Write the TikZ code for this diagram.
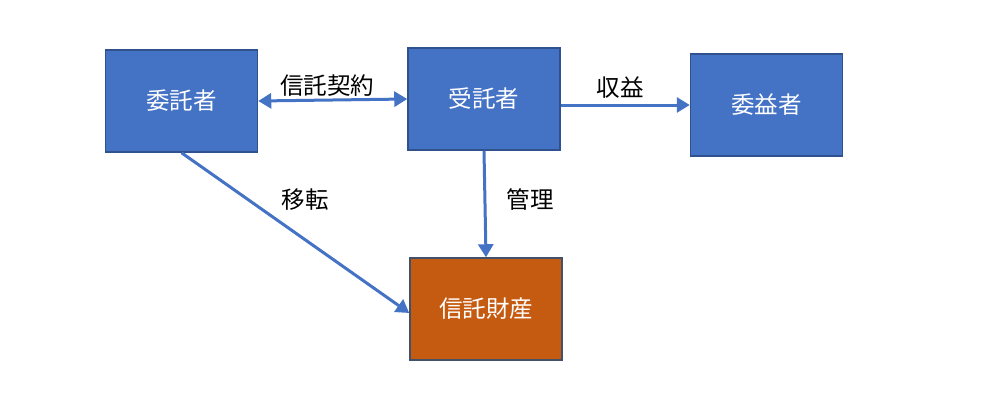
\documentclass[tikz,border=0pt]{standalone}
\usepackage{fontspec}
\setmainfont{Noto Sans CJK JP}
\usetikzlibrary{arrows.meta}
\definecolor{boxblue}{HTML}{4472C4}
\definecolor{boxline}{HTML}{2F528F}
\definecolor{boxorange}{HTML}{C55A11}
\definecolor{orangeline}{HTML}{42506A}
\tikzset{
  font={\fontsize{23.5pt}{28pt}\selectfont},
  party/.style={draw=boxline, line width=1.5pt, fill=boxblue, text=white,
    minimum width=152pt, minimum height=102pt, inner sep=0pt},
  asset/.style={party, draw=orangeline, fill=boxorange},
  link/.style={draw=boxblue, line width=3pt,
    -{Triangle[length=13pt,width=15pt]}},
  linklabel/.style={inner sep=0pt, text=black}}
\begin{document}
\begin{tikzpicture}[x=1pt,y=-1pt]
\useasboundingbox (0,0) rectangle (982,415);
% boxes
\node [party] (itaku) at (181.5,101) {委託者};
\node [party] (jutaku) at (484,99) {受託者};
\node [party] (ieki) at (766.5,105) {委益者};
\node [asset] (zaisan) at (486,309) {信託財産};
% connectors
\draw [link, {Triangle[length=13pt,width=15pt]}-{Triangle[length=13pt,width=15pt]}] (itaku.east) -- (jutaku.west);
\draw [link] (jutaku.east |- ieki.west) -- (ieki.west);
\draw [link] (jutaku.south) -- (zaisan.north);
\draw [link] (itaku.south) -- ([yshift=-4pt]zaisan.west);
% labels
\node [linklabel] (keiyaku) at (327,86) {信託契約};
\node [linklabel] (shueki) at (620,88) {収益};
\node [linklabel] (iten) at (305,200) {移転};
\node [linklabel] (kanri) at (530,200) {管理};
\end{tikzpicture}
\end{document}
